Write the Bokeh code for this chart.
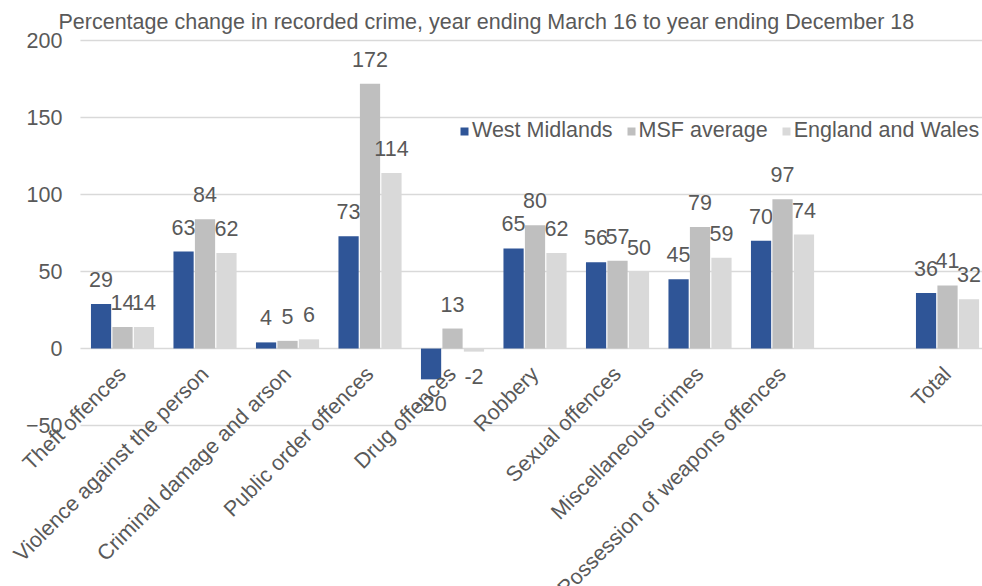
import math
from bokeh.plotting import figure
from bokeh.models import ColumnDataSource, FixedTicker, Range1d, Legend, LegendItem, LabelSet, Label
from bokeh.core.properties import value
from bokeh.embed import file_html
from bokeh.resources import INLINE

title_text = "Percentage change in recorded crime, year ending March 16 to year ending December 18"
categories = ["Theft offences", "Violence against the person", "Criminal damage and arson",
              "Public order offences", "Drug offences", "Robbery", "Sexual offences",
              "Miscellaneous crimes", "Possession of weapons offences", "", "Total"]
series_names = ["West Midlands", "MSF average", "England and Wales"]
west_midlands = [29, 63, 4, 73, -20, 65, 56, 45, 70, None, 36]
msf_average = [14, 84, 5, 172, 13, 80, 57, 79, 97, None, 41]
england_wales = [14, 62, 6, 114, -2, 62, 50, 59, 74, None, 32]
y_ticks = [-50, 0, 50, 100, 150, 200]

colors = ["#2F5597", "#BFBFBF", "#D9D9D9"]
offsets = [-0.26, 0.0, 0.26]
FONT = "Liberation Sans"
TXT = "#595959"
FS = "21.5px"

# layout: the frame spans the whole canvas so that the slanted category labels,
# the tick labels and the title are not clipped; the plotting area (gridlines)
# starts half a slot left of the first category
X_START, X_END = -1.479, 10.424
Y_START, Y_END = -154.5, 226.0
AREA_LEFT = -0.51

p = figure(width=982, height=586, output_backend="svg", toolbar_location=None,
           x_range=Range1d(X_START, X_END), y_range=Range1d(Y_START, Y_END),
           min_border_left=0, min_border_right=0, min_border_top=0, min_border_bottom=0)
p.background_fill_color = None
p.border_fill_color = None
p.outline_line_color = None

# title as a text annotation at the top left
p.add_layout(Label(x=58, y=565, x_units="screen", y_units="screen", text=title_text,
                   text_align="left", text_baseline="middle", text_font=FONT,
                   text_font_size=FS, text_color=TXT))

# y axis, placed at the left edge of the plotting area
p.yaxis.fixed_location = AREA_LEFT
p.yaxis.ticker = FixedTicker(ticks=y_ticks)
p.yaxis.axis_line_color = None
p.yaxis.major_tick_line_color = None
p.yaxis.minor_tick_line_color = None
p.yaxis.major_label_text_font = FONT
p.yaxis.major_label_text_font_size = FS
p.yaxis.major_label_text_color = TXT
p.yaxis.major_label_standoff = 12

p.grid.visible = False
p.xaxis.visible = False

# horizontal gridlines at the y ticks
p.segment(x0=AREA_LEFT, x1=X_END, y0=y_ticks, y1=y_ticks, line_color="#D9D9D9", line_width=1.5)

# category labels hanging from the zero line
tick_pos = [i for i, c in enumerate(categories) if c]
cat_src = ColumnDataSource(dict(x=tick_pos, y=[0] * len(tick_pos),
                                text=[categories[i] for i in tick_pos]))
cat_labels = LabelSet(x="x", y="y", text="text", source=cat_src, angle=math.pi / 4,
                      text_align="right", text_baseline="middle", x_offset=0, y_offset=-22,
                      text_font=value(FONT), text_font_size=FS, text_color=TXT)
p.add_layout(cat_labels)

items = []
for name, vals, col, off in zip(series_names, [west_midlands, msf_average, england_wales], colors, offsets):
    xs = [i + off for i, v in enumerate(vals) if v is not None]
    ys = [v for v in vals if v is not None]
    src = ColumnDataSource(dict(
        x=xs, top=ys, label=[str(v) for v in ys],
        base=["bottom" if v >= 0 else "top" for v in ys],
        yo=[-17 if v >= 0 else 17 for v in ys],
    ))
    r = p.vbar(x="x", top="top", bottom=0, width=0.245, source=src, fill_color=col, line_color=None)
    p.text(x="x", y="top", text="label", source=src, text_align="center",
           text_baseline="base", y_offset="yo", text_font=value(FONT),
           text_font_size=FS, text_color=TXT)
    items.append(LegendItem(label=name, renderers=[r]))

legend = Legend(items=items, orientation="horizontal", location=(459, 443),
                glyph_width=10, glyph_height=10, label_standoff=3, spacing=13,
                padding=0, margin=0, border_line_color=None, background_fill_alpha=0,
                label_text_font=FONT, label_text_font_size=FS, label_text_color=TXT)
p.add_layout(legend, "center")

open("out.html", "w").write(file_html(p, INLINE))
